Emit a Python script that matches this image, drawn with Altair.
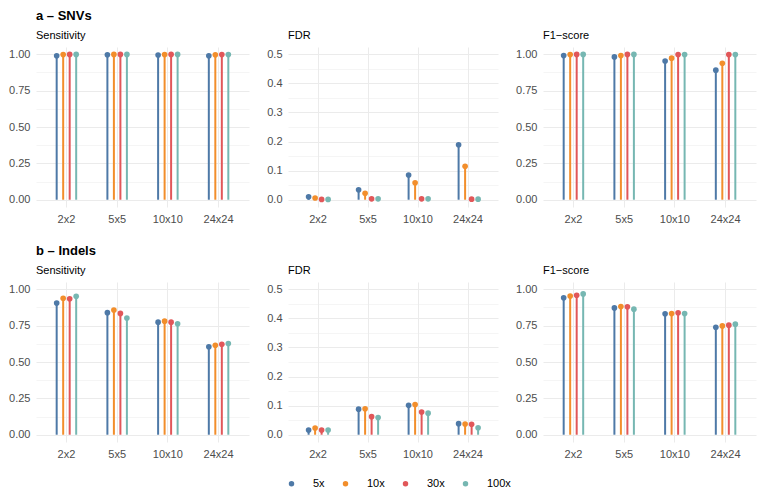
import altair as alt
import pandas as pd

CATS = ["2x2", "5x5", "10x10", "24x24"]
COVS = ["5x", "10x", "30x", "100x"]
COLORS = ["#4E79A7", "#F28E2B", "#E15759", "#76B7B2"]

# SNVs
snv_sens = {
    "5x": [0.990, 0.997, 0.995, 0.989],
    "10x": [0.998, 0.999, 0.998, 0.996],
    "30x": [0.999, 0.999, 0.999, 0.998],
    "100x": [0.999, 0.999, 0.999, 0.998],
}
snv_fdr = {
    "5x": [0.010, 0.034, 0.085, 0.189],
    "10x": [0.006, 0.022, 0.058, 0.115],
    "30x": [0.001, 0.003, 0.003, 0.002],
    "100x": [0.001, 0.003, 0.003, 0.002],
}
snv_f1 = {
    "5x": [0.991, 0.982, 0.954, 0.891],
    "10x": [0.998, 0.991, 0.973, 0.938],
    "30x": [0.999, 0.999, 0.998, 0.998],
    "100x": [0.999, 0.999, 0.998, 0.998],
}
# Indels
indel_sens = {
    "5x": [0.905, 0.839, 0.774, 0.604],
    "10x": [0.938, 0.857, 0.781, 0.615],
    "30x": [0.935, 0.834, 0.774, 0.622],
    "100x": [0.952, 0.802, 0.763, 0.627],
}
indel_fdr = {
    "5x": [0.016, 0.088, 0.101, 0.038],
    "10x": [0.023, 0.089, 0.104, 0.037],
    "30x": [0.016, 0.062, 0.078, 0.036],
    "100x": [0.016, 0.059, 0.074, 0.024],
}
indel_f1 = {
    "5x": [0.941, 0.872, 0.831, 0.739],
    "10x": [0.954, 0.881, 0.833, 0.748],
    "30x": [0.959, 0.879, 0.838, 0.753],
    "100x": [0.968, 0.863, 0.833, 0.760],
}

rows = []
for variant, metric, table in [
    ("SNV", "sens", snv_sens), ("SNV", "fdr", snv_fdr), ("SNV", "f1", snv_f1),
    ("Indel", "sens", indel_sens), ("Indel", "fdr", indel_fdr), ("Indel", "f1", indel_f1),
]:
    for cov in COVS:
        for cat, v in zip(CATS, table[cov]):
            rows.append({"variant": variant, "metric": metric, "cat": cat, "cov": cov, "value": v})
df = pd.DataFrame(rows)

GRID = "#EBEBEB"
LABEL = "#4D4D4D"


def panel(variant, metric, title, subtitle, width):
    d = df[(df.variant == variant) & (df.metric == metric)]
    if metric == "fdr":
        domain = [-0.025, 0.525]
        major = [0, 0.1, 0.2, 0.3, 0.4, 0.5]
        minor = [0.05, 0.15, 0.25, 0.35, 0.45]
        fmt = ".1f"
    else:
        domain = [-0.05, 1.05]
        major = [0, 0.25, 0.5, 0.75, 1.0]
        minor = [0.125, 0.375, 0.625, 0.875]
        fmt = ".2f"
    step = width / 4.2
    yscale = alt.Scale(domain=domain, nice=False, zero=False)
    xenc = alt.X(
        "cat:N", sort=CATS,
        scale=alt.Scale(paddingInner=0, paddingOuter=0.1),
        axis=alt.Axis(title=None, labelAngle=0, grid=True, gridColor=GRID, gridWidth=1,
                      ticks=False, domain=False, labelPadding=6, labelFontSize=11,
                      labelColor=LABEL),
    )
    xoff = alt.XOffset(
        "cov:N", sort=COVS,
        scale=alt.Scale(paddingInner=0, paddingOuter=0.5,
                        range=[step / 2 - 16.25, step / 2 + 16.25]),
    )
    color = alt.Color(
        "cov:N", sort=COVS,
        scale=alt.Scale(domain=COVS, range=COLORS),
        legend=alt.Legend(title=None, orient="none", direction="horizontal",
                          legendX=250, legendY=431, symbolType="circle", symbolSize=30,
                          labelFontSize=11, labelColor="black", labelOffset=16,
                          columnPadding=15, symbolStrokeWidth=0),
    )
    base = alt.Chart(d)
    stems = base.mark_rule(strokeWidth=2).encode(
        x=xenc, xOffset=xoff,
        y=alt.Y("value:Q", scale=yscale,
                axis=alt.Axis(values=minor, grid=True, gridColor=GRID, gridWidth=0.5,
                              labels=False, ticks=False, domain=False, title=None,
                              orient="left")),
        y2=alt.datum(0),
        color=color,
    )
    dots = base.mark_circle(size=32, opacity=1).encode(
        x=xenc, xOffset=xoff,
        y=alt.Y("value:Q", scale=yscale,
                axis=alt.Axis(values=major, format=fmt, grid=True, gridColor=GRID, gridWidth=1,
                              ticks=False, domain=False, title=None, labelPadding=6,
                              labelFontSize=11, labelColor=LABEL, orient="left")),
        color=color,
    )
    return alt.layer(stems, dots).resolve_axis(y="independent").properties(
        width=width, height=160,
        title=alt.TitleParams(title, subtitle=subtitle),
    )


row_a = alt.hconcat(
    panel("SNV", "sens", "a – SNVs", "Sensitivity", 213),
    panel("SNV", "fdr", " ", "FDR", 210),
    panel("SNV", "f1", " ", "F1−score", 213),
    spacing=17,
)
row_b = alt.hconcat(
    panel("Indel", "sens", "b – Indels", "Sensitivity", 213),
    panel("Indel", "fdr", " ", "FDR", 210),
    panel("Indel", "f1", " ", "F1−score", 213),
    spacing=17,
)

chart = alt.vconcat(row_a, row_b, spacing=21).properties(
    padding={"left": 8, "top": 10, "right": 5, "bottom": 5},
    background="white",
).configure(font="Liberation Sans").configure_view(stroke=None).configure_title(
    anchor="start", frame="group", fontSize=13, fontWeight="bold", color="black",
    subtitleFontSize=11, subtitleColor="black", subtitlePadding=7, offset=6,
)

chart.save("out.html", embed_options={"renderer": "svg", "actions": False})
